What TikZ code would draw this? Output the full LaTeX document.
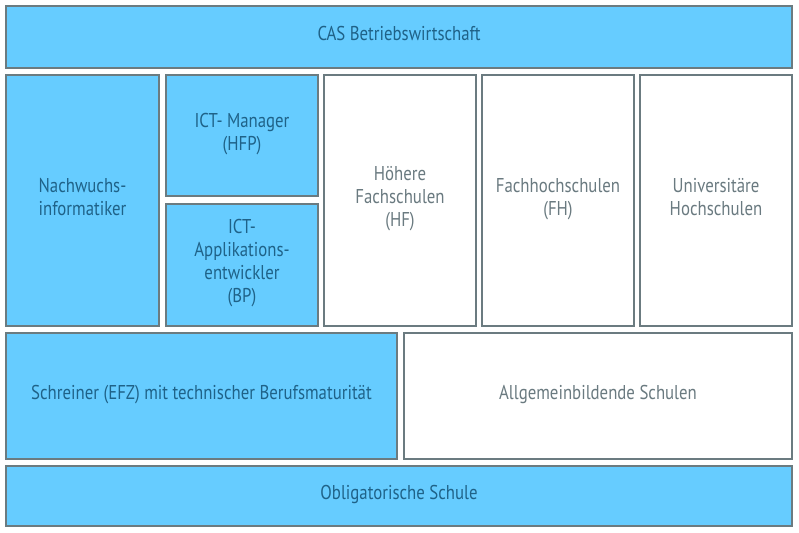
\documentclass[tikz,border=0pt]{standalone}
\usepackage{fontspec}
\setmainfont[FakeStretch=0.84]{PT Sans}
\definecolor{boxblue}{HTML}{66CCFF}
\definecolor{boxline}{HTML}{6B7B80}
\definecolor{bluetext}{HTML}{1F6288}
\definecolor{graytext}{HTML}{6A7A80}

\begin{document}
\begin{tikzpicture}[x=1pt, y=-1pt,
    bluebox/.style={rectangle, draw=boxline, line width=2pt, fill=boxblue, text=bluetext,
      inner sep=0pt, outer sep=0pt, align=center, text depth=8pt,
      font=\fontsize{20}{23}\selectfont},
    whitebox/.style={bluebox, fill=white, text=graytext}]
    \useasboundingbox (0,0) rectangle (799,532);

    % obere Zeile
    \node[bluebox, minimum width=786pt, minimum height=62pt] (cas) at (399, 37) {CAS Betriebswirtschaft};

    % mittlere Zeile
    \node[bluebox, minimum width=153pt, minimum height=251pt] (nachwuchs) at (82.5, 200.5) {Nachwuchs-\\informatiker};
    \node[bluebox, minimum width=152pt, minimum height=121pt] (manager) at (242, 135.5) {ICT- Manager\\(HFP)};
    \node[bluebox, minimum width=152pt, minimum height=122pt] (applikation) at (242, 265) {ICT-\\Applikations-\\entwickler\\(BP)};
    \node[whitebox, minimum width=152pt, minimum height=251pt] (hf) at (400, 200.5) {Höhere\\Fachschulen\\(HF)};
    \node[whitebox, minimum width=152pt, minimum height=251pt] (fh) at (558, 200.5) {Fachhochschulen\\(FH)};
    \node[whitebox, minimum width=152pt, minimum height=251pt] (uni) at (716, 200.5) {Universitäre\\Hochschulen};

    % untere Zeilen
    \node[bluebox, minimum width=391pt, minimum height=126pt] (schreiner) at (201.5, 396) {Schreiner (EFZ) mit technischer Berufsmaturität};
    \node[whitebox, minimum width=388pt, minimum height=126pt] (allgemein) at (598, 396) {Allgemeinbildende Schulen};
    \node[bluebox, minimum width=786pt, minimum height=60pt] (obligatorisch) at (399, 496) {Obligatorische Schule};

  \end{tikzpicture}
\end{document}
